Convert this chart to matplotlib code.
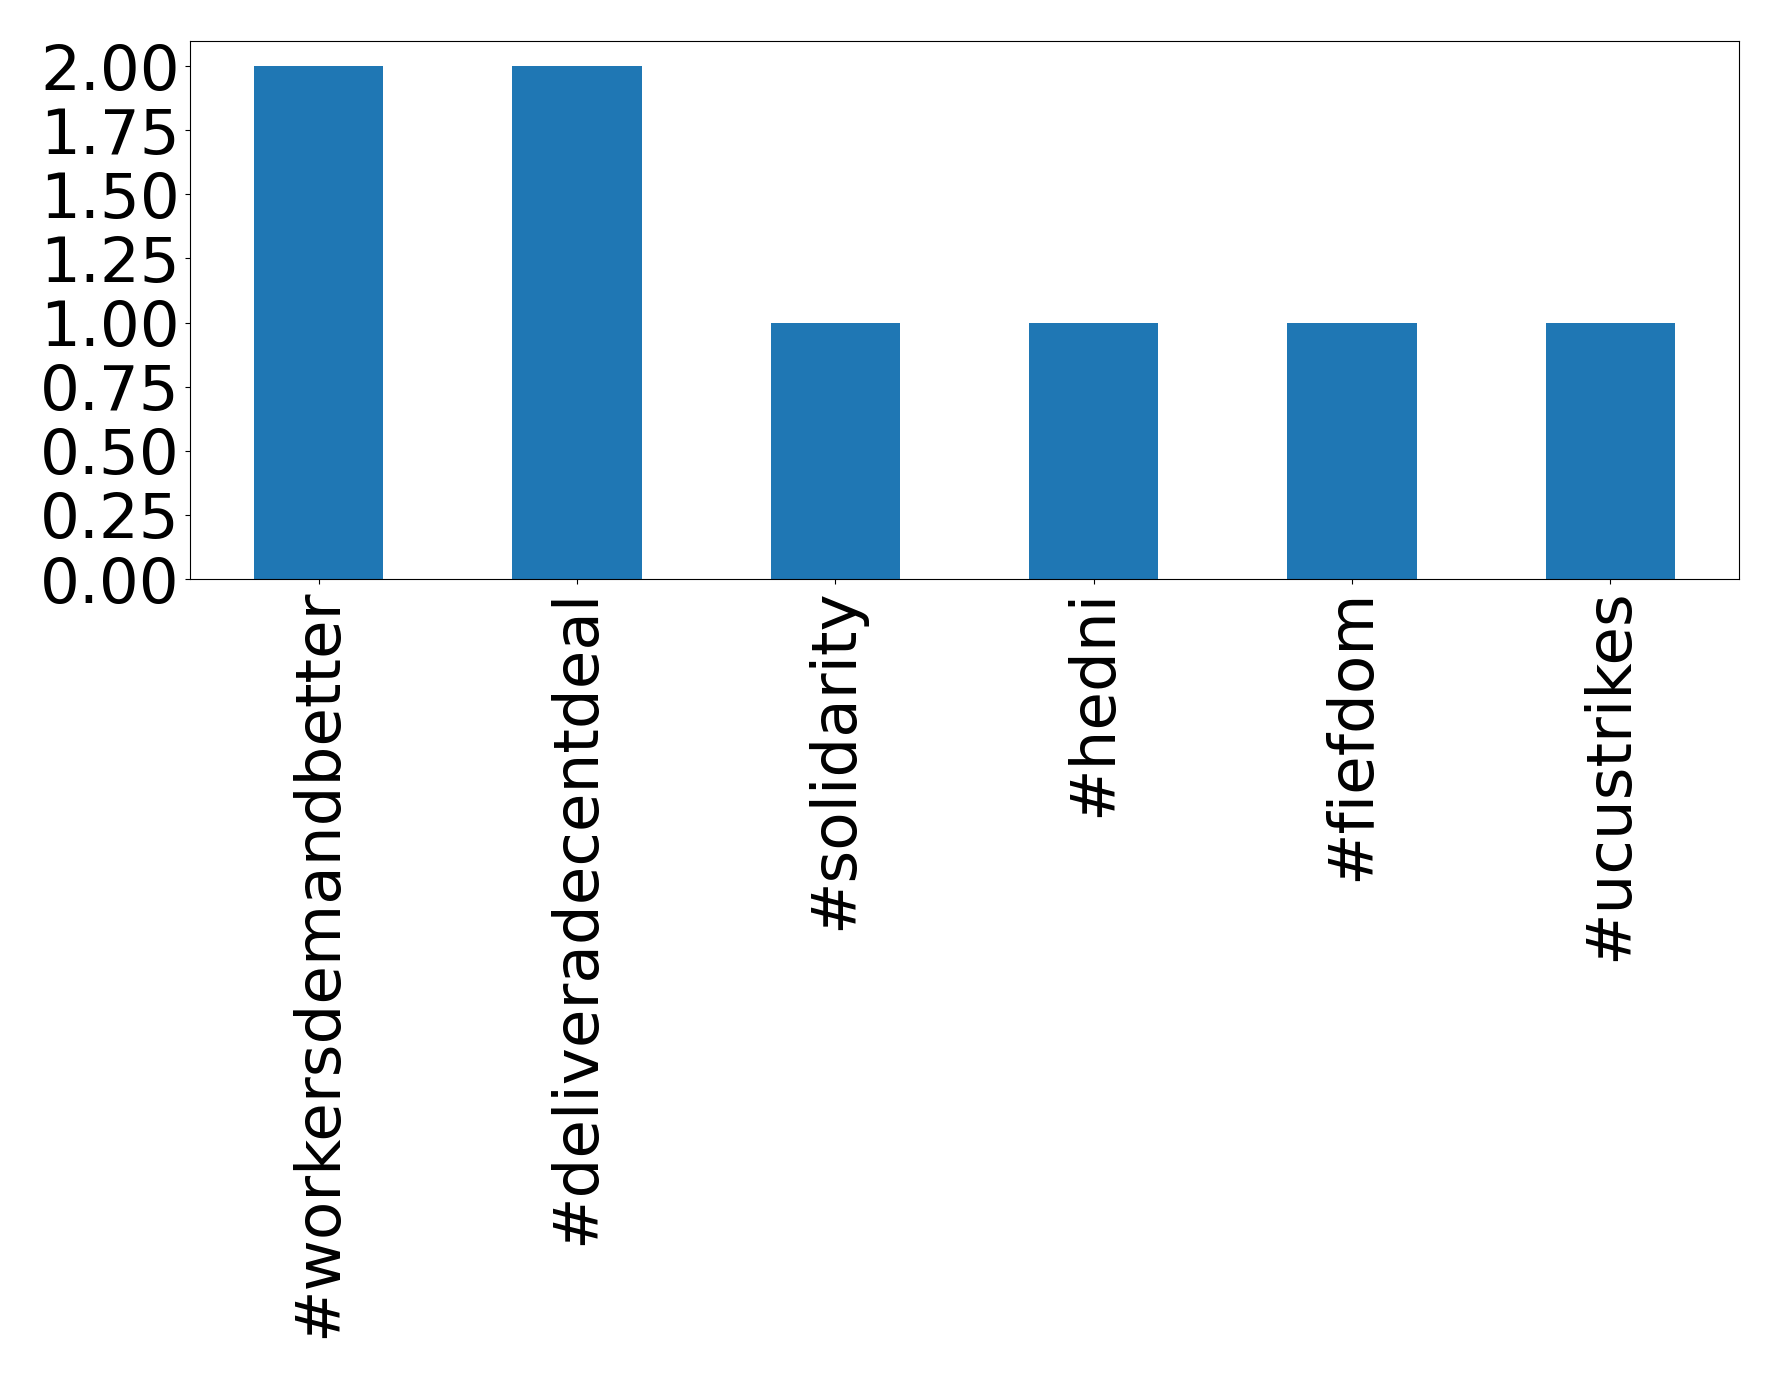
import matplotlib
matplotlib.use("Agg")
import matplotlib.pyplot as plt

categories = ["#workersdemandbetter", "#deliveradecentdeal", "#solidarity",
              "#hedni", "#fiefdom", "#ucustrikes"]
counts = [2, 2, 1, 1, 1, 1]

fig = plt.figure(figsize=(17.78, 13.74), dpi=100)
ax = fig.add_axes([189.5/1778, 1 - 579/1374, (1739.5-189.5)/1778, (579-40.5)/1374])
x = range(len(categories))
ax.bar(x, counts, width=0.5, color="#1f77b4")
ax.set_xlim(-0.5, len(categories) - 0.5)
ax.set_ylim(0, 2.1)
ax.set_yticks([0, 0.25, 0.5, 0.75, 1.0, 1.25, 1.5, 1.75, 2.0])
ax.set_yticklabels([f"{v:.2f}" for v in [0, 0.25, 0.5, 0.75, 1.0, 1.25, 1.5, 1.75, 2.0]])
ax.set_xticks(list(x))
ax.set_xticklabels(categories, rotation=90)
ax.tick_params(labelsize=45.2)
fig.savefig("out.png", dpi=100)
